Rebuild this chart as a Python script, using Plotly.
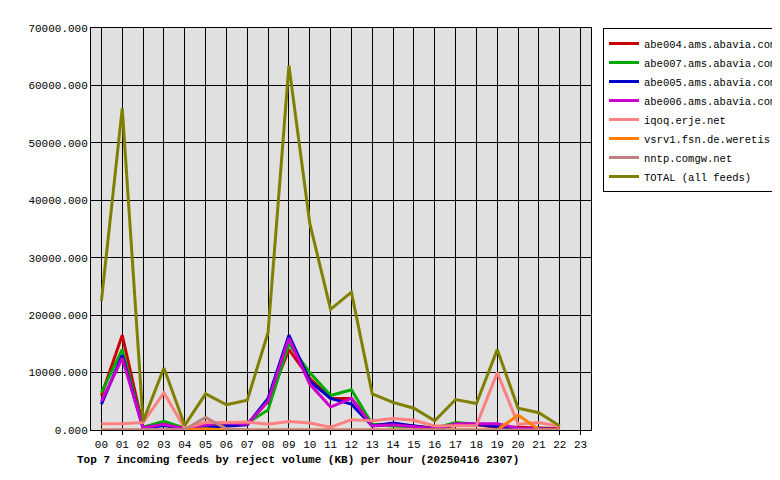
import plotly.graph_objects as go

hours = [f"{h:02d}" for h in range(24)]
hx = list(range(23))
abe004 = [6000,16500,500,1200,300,700,800,1000,5000,14000,9000,5500,5500,1000,800,700,300,800,900,500,500,300,200]
abe007 = [6500,14000,500,1500,300,600,800,1200,3500,15000,10000,6000,7000,1000,700,600,300,1300,1000,800,300,200,100]
abe005 = [4500,13000,300,800,200,500,700,900,5500,16500,8500,5500,4500,700,1200,700,200,900,1000,600,300,200,100]
abe006 = [5000,12500,400,1000,200,900,1200,1000,5000,16000,8000,4000,5500,700,900,500,200,1100,1100,1100,300,200,100]
iqoq = [1100,1100,1300,6500,300,1300,1300,1400,1000,1500,1200,500,1800,1600,2000,1700,700,800,800,10000,1000,1300,600]
vsrv1 = [0,0,0,0,0,200,0,0,0,0,0,0,0,0,0,0,0,0,0,0,2600,100,0]
nntp = [0,0,0,0,100,2200,200,0,0,0,0,0,0,0,0,0,0,0,0,0,0,0,0]
total = [22500,56000,1500,10800,800,6300,4400,5200,17000,63500,36000,21000,24000,6300,4800,3800,1600,5300,4600,14000,3800,3000,700]

series = [
    ("abe004.ams.abavia.com", abe004, "#cc0000"),
    ("abe007.ams.abavia.com", abe007, "#00aa00"),
    ("abe005.ams.abavia.com", abe005, "#0000cc"),
    ("abe006.ams.abavia.com", abe006, "#cc00cc"),
    ("iqoq.erje.net", iqoq, "#ff8080"),
    ("vsrv1.fsn.de.weretis.net", vsrv1, "#ff8000"),
    ("nntp.comgw.net", nntp, "#c08080"),
    ("TOTAL (all feeds)", total, "#808000"),
]

fig = go.Figure()
for name, vals, col in series:
    fig.add_trace(go.Scatter(x=hx, y=vals, name=name, mode="lines",
                             line=dict(color=col, width=3)))

font = "Liberation Mono, DejaVu Sans Mono, monospace"
fig.update_layout(
    width=780, height=480, paper_bgcolor="white", plot_bgcolor="#e0e0e0",
    margin=dict(l=83, r=197, t=20, b=58, autoexpand=False),
    font=dict(family=font, size=11, color="black"),
    showlegend=True,
    legend=dict(x=1.024, y=1.0, xanchor="left", yanchor="top",
                bordercolor="black", borderwidth=1, bgcolor="white",
                font=dict(size=10.5), tracegroupgap=0, itemwidth=30),
    xaxis=dict(range=[-0.5, 23.5], tickmode="array", tickvals=list(range(24)),
               ticktext=hours, showgrid=True, gridcolor="black", gridwidth=1,
               showline=True, linecolor="black", mirror=True, ticks="outside",
               ticklen=4, tickcolor="black", zeroline=False, automargin=False),
    yaxis=dict(range=[0, 70000], tickvals=list(range(0, 70001, 10000)),
               tickformat=".3f", showgrid=True, gridcolor="black", gridwidth=1,
               showline=True, linecolor="black", mirror=True, zeroline=False,
               automargin=False),
    annotations=[dict(text="<b>Top 7 incoming feeds by reject volume (KB) per hour (20250416 2307)</b>",
                      xref="paper", yref="paper", x=-0.032, y=-0.075, xanchor="left",
                      yanchor="middle", showarrow=False, font=dict(size=11))],
)
fig.write_html("out.html")
